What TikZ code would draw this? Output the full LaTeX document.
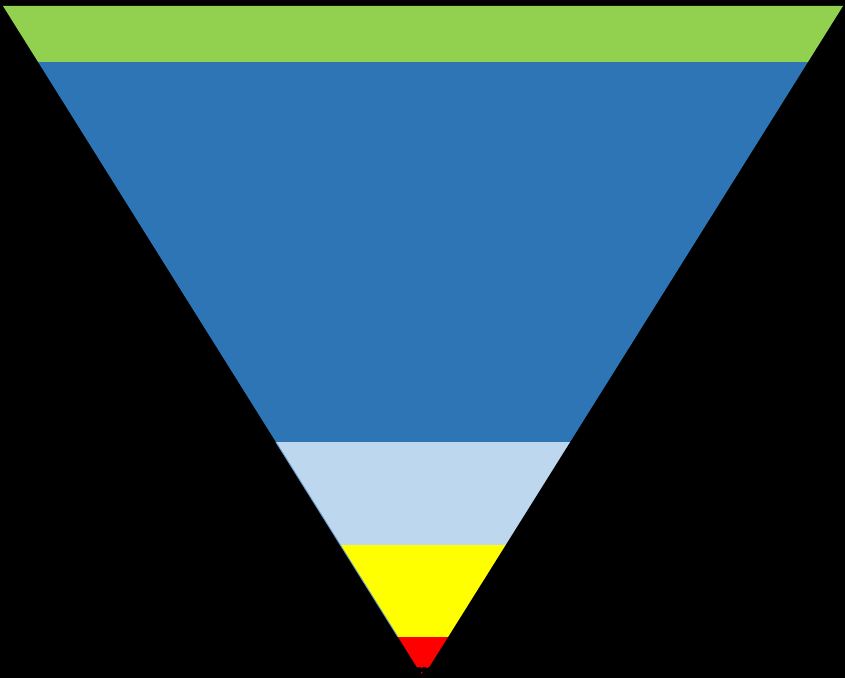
\documentclass[tikz,border=0pt]{standalone}
\usepackage{xcolor}
\usepackage{tikz}
\usetikzlibrary{calc,patterns}
\definecolor{bandgreen}{RGB}{146,208,80}
\definecolor{bandblue}{RGB}{46,117,182}
\definecolor{bandlight}{RGB}{189,215,238}
\definecolor{bandyellow}{RGB}{255,255,0}
\definecolor{bandred}{RGB}{255,0,0}

\begin{document}
\begin{tikzpicture}[
  x=0.02cm, y=-0.02cm,
  band/.style={draw=none},
  rim/.style={draw=bandblue!70, line width=0.5pt}
]

% Background
\fill[black] (0,0) rectangle (845,678);
\useasboundingbox (0,0) rectangle (845,678);

% Corners of the funnel
\coordinate (TL) at (3,6);
\coordinate (TR) at (843,6);
\coordinate (apex) at (423,677);

% Band 1: green (top)
\fill[band, bandgreen] (TL) -- (TR) -- ($(TR)!0.0835!(apex)$) -- ($(TL)!0.0835!(apex)$) -- cycle;

% Band 2: blue
\fill[band, bandblue] ($(TL)!0.0835!(apex)$) -- ($(TR)!0.0835!(apex)$) -- ($(TR)!0.6498!(apex)$) -- ($(TL)!0.6498!(apex)$) -- cycle;

% Band 3: light blue
\fill[band, bandlight] ($(TL)!0.6498!(apex)$) -- ($(TR)!0.6498!(apex)$) -- ($(TR)!0.8033!(apex)$) -- ($(TL)!0.8033!(apex)$) -- cycle;

% Band 4: yellow
\fill[band, bandyellow] ($(TL)!0.8033!(apex)$) -- ($(TR)!0.8033!(apex)$) -- ($(TR)!0.9404!(apex)$) -- ($(TL)!0.9404!(apex)$) -- cycle;

% Band 5: red
\fill[band, bandred] ($(TL)!0.9404!(apex)$) -- ($(TR)!0.9404!(apex)$) -- ($(TR)!0.9851!(apex)$) -- ($(TL)!0.9851!(apex)$) -- cycle;

% Tip: dotted red
\fill[pattern=dots, pattern color=bandred] ($(TL)!0.9851!(apex)$) -- ($(TR)!0.9851!(apex)$) -- (apex) -- cycle;

% Thin rim on the lower left edge
\draw[rim] ($(TL)!0.6498!(apex)$) -- ($(TL)!0.9404!(apex)$);

\end{tikzpicture}
\end{document}
